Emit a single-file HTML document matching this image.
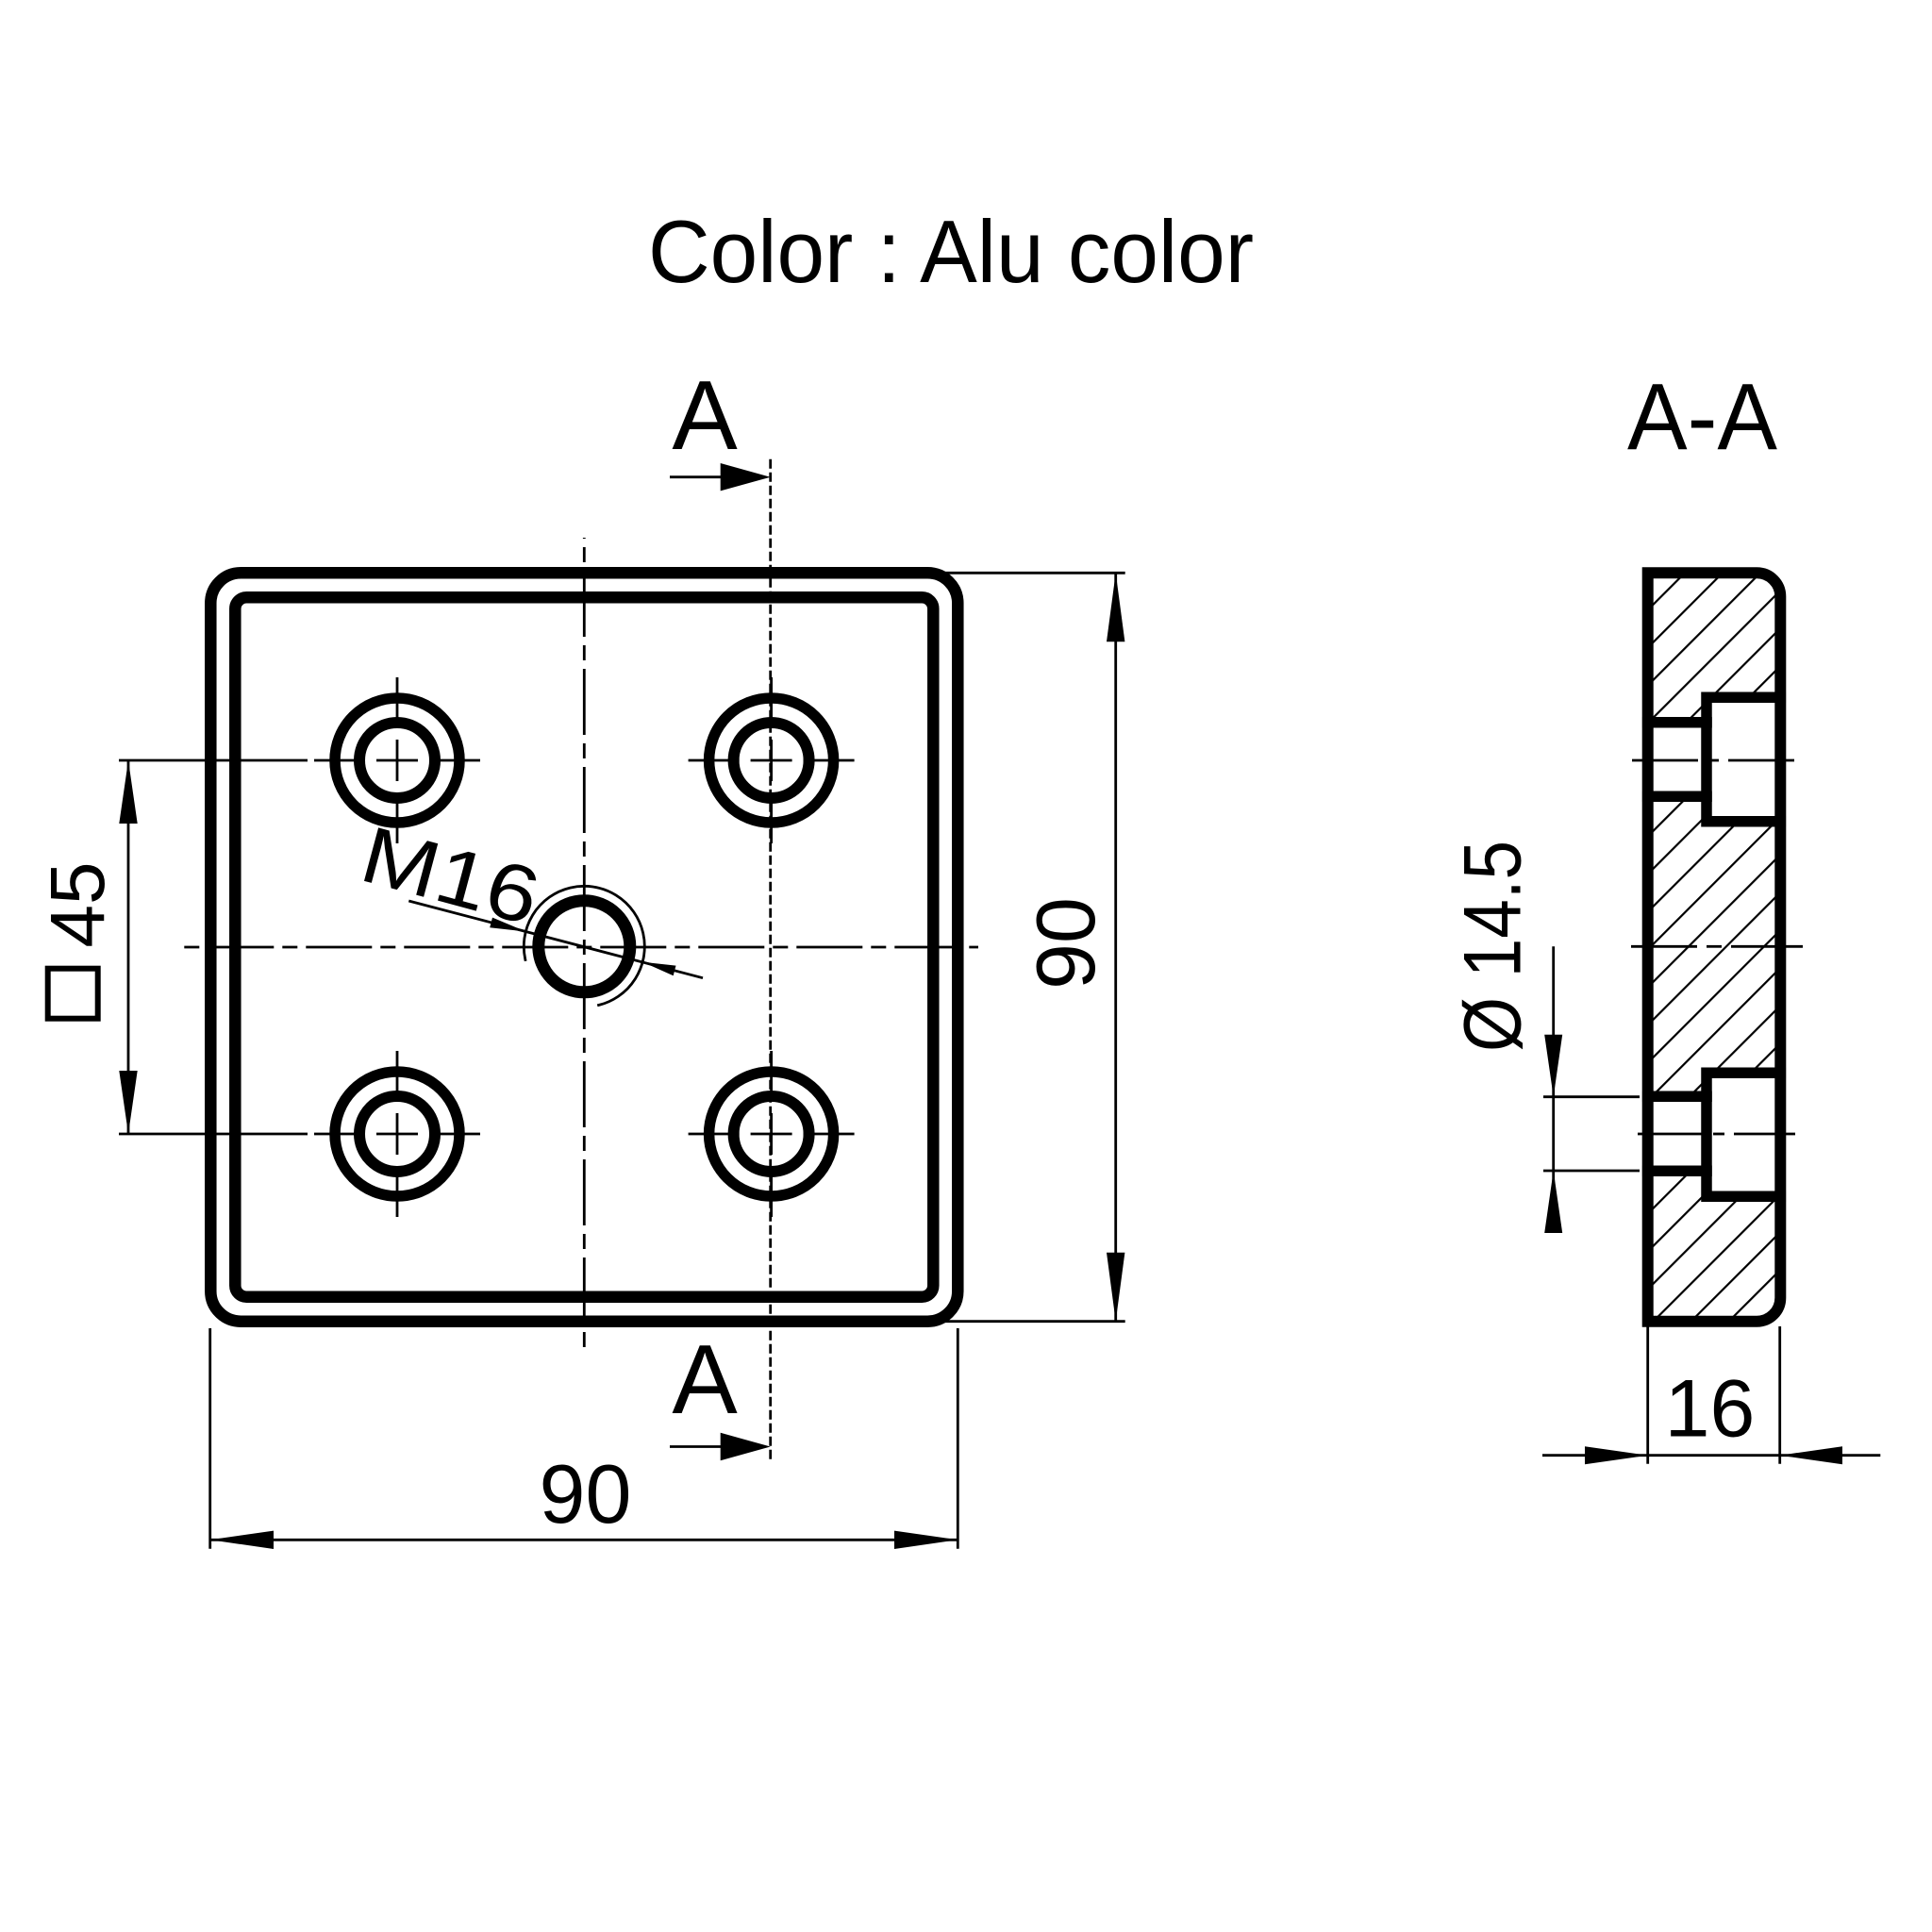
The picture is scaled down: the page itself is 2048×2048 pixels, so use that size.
<!DOCTYPE html>
<html><head><meta charset="utf-8"><style>
html,body{margin:0;padding:0;background:#fff;}
svg{display:block;}
text{font-family:"Liberation Sans",sans-serif;fill:#000;}
</style></head><body>
<svg width="2048" height="2048" viewBox="0 0 2048 2048" xmlns="http://www.w3.org/2000/svg">
<rect width="2048" height="2048" fill="#fff"/>
<defs>
<clipPath id="sec"><path d="M1746.7 607.3 H1862.3 A25 25 0 0 1 1887.3 632.3 V1375.7 A25 25 0 0 1 1862.3 1400.7 H1746.7 Z"/></clipPath>
</defs>

<!-- Title -->
<text x="687" y="299" font-size="94" textLength="642" lengthAdjust="spacingAndGlyphs">Color : Alu color</text>

<!-- Section labels -->
<text x="747" y="476" font-size="104" text-anchor="middle">A</text>
<text x="747" y="1498" font-size="104" text-anchor="middle">A</text>
<text x="1725" y="476" font-size="100" textLength="159" lengthAdjust="spacingAndGlyphs">A-A</text>

<!-- Section arrows -->
<g stroke="#000" stroke-width="2.8" fill="none">
<line x1="710" y1="505.7" x2="770" y2="505.7"/>
<line x1="710" y1="1533.5" x2="770" y2="1533.5"/>
</g>
<polygon points="816.7,505.7 763.7,491 763.7,520.4" fill="#000"/>
<polygon points="816.7,1533.5 763.7,1518.8 763.7,1548.2" fill="#000"/>
<line x1="816.7" y1="486.7" x2="816.7" y2="1549" stroke="#000" stroke-width="2.8" stroke-dasharray="10 4"/>

<!-- Plate outlines -->
<rect x="223.3" y="607.3" width="792" height="793.4" rx="32" ry="32" fill="none" stroke="#000" stroke-width="12.5"/>
<rect x="249.3" y="633.3" width="740" height="741.4" rx="12" ry="12" fill="none" stroke="#000" stroke-width="12.5"/>

<!-- Main centerlines -->
<line x1="619.3" y1="570" x2="619.3" y2="1429.3" stroke="#000" stroke-width="2.8" stroke-dasharray="70 9 16 9" stroke-dashoffset="69"/>
<line x1="186.7" y1="1004" x2="1037" y2="1004" stroke="#000" stroke-width="2.8" stroke-dasharray="70 9 16 9" stroke-dashoffset="70.4"/>

<!-- Counterbored holes -->
<g fill="none" stroke="#000">
<circle cx="421" cy="806" r="66" stroke-width="11.5"/>
<circle cx="421" cy="806" r="40" stroke-width="12"/>
<circle cx="817.6" cy="806" r="66" stroke-width="11.5"/>
<circle cx="817.6" cy="806" r="40" stroke-width="12"/>
<circle cx="421" cy="1202" r="66" stroke-width="11.5"/>
<circle cx="421" cy="1202" r="40" stroke-width="12"/>
<circle cx="817.6" cy="1202" r="66" stroke-width="11.5"/>
<circle cx="817.6" cy="1202" r="40" stroke-width="12"/>
</g>
<!-- Crosshairs -->
<g stroke="#000" stroke-width="2.8">
<line x1="421" y1="718" x2="421" y2="772"/><line x1="421" y1="784" x2="421" y2="828"/><line x1="421" y1="840" x2="421" y2="894"/>
<line x1="333" y1="806" x2="387" y2="806"/><line x1="399" y1="806" x2="443" y2="806"/><line x1="455" y1="806" x2="509" y2="806"/>
<line x1="817.6" y1="718" x2="817.6" y2="772"/><line x1="817.6" y1="784" x2="817.6" y2="828"/><line x1="817.6" y1="840" x2="817.6" y2="894"/>
<line x1="729.6" y1="806" x2="783.6" y2="806"/><line x1="795.6" y1="806" x2="839.6" y2="806"/><line x1="851.6" y1="806" x2="905.6" y2="806"/>
<line x1="421" y1="1114" x2="421" y2="1168"/><line x1="421" y1="1180" x2="421" y2="1224"/><line x1="421" y1="1236" x2="421" y2="1290"/>
<line x1="333" y1="1202" x2="387" y2="1202"/><line x1="399" y1="1202" x2="443" y2="1202"/><line x1="455" y1="1202" x2="509" y2="1202"/>
<line x1="817.6" y1="1114" x2="817.6" y2="1168"/><line x1="817.6" y1="1180" x2="817.6" y2="1224"/><line x1="817.6" y1="1236" x2="817.6" y2="1290"/>
<line x1="729.6" y1="1202" x2="783.6" y2="1202"/><line x1="795.6" y1="1202" x2="839.6" y2="1202"/><line x1="851.6" y1="1202" x2="905.6" y2="1202"/>
</g>

<!-- Center threaded hole -->
<circle cx="619.3" cy="1003.3" r="48.5" fill="none" stroke="#000" stroke-width="13"/>
<path d="M557.2 1018.8 A64 64 0 1 1 633.2 1065.8" fill="none" stroke="#000" stroke-width="2.8"/>
<line x1="433.3" y1="955" x2="745" y2="1036.7" stroke="#000" stroke-width="2.8"/>
<polygon points="557.4,987.5 519.2,983.2 522.0,972.6" fill="#000"/>
<polygon points="681.2,1019.8 713.7,1034.2 716.5,1023.6" fill="#000"/>
<text transform="translate(378.3 931.7) rotate(15)" font-size="85" textLength="190" lengthAdjust="spacingAndGlyphs">M16</text>

<!-- Dimension: horizontal 90 -->
<g stroke="#000" stroke-width="2.8">
<line x1="222.7" y1="1408" x2="222.7" y2="1641.7"/>
<line x1="1015.3" y1="1408" x2="1015.3" y2="1641.7"/>
<line x1="222.7" y1="1632.3" x2="1015.3" y2="1632.3"/>
</g>
<polygon points="222.7,1632.3 290,1622.6 290,1642" fill="#000"/>
<polygon points="1015.3,1632.3 948,1622.6 948,1642" fill="#000"/>
<text x="620.5" y="1614" font-size="88" text-anchor="middle">90</text>

<!-- Dimension: vertical 90 -->
<g stroke="#000" stroke-width="2.8">
<line x1="1000" y1="607.3" x2="1192.7" y2="607.3"/>
<line x1="1000" y1="1400.7" x2="1192.7" y2="1400.7"/>
<line x1="1182.7" y1="607.3" x2="1182.7" y2="1400.7"/>
</g>
<polygon points="1182.7,607.3 1173,680.3 1192.4,680.3" fill="#000"/>
<polygon points="1182.7,1400.7 1173,1327.7 1192.4,1327.7" fill="#000"/>
<text transform="translate(1160 1000) rotate(-90)" font-size="88" text-anchor="middle">90</text>

<!-- Dimension: square 45 -->
<g stroke="#000" stroke-width="2.8">
<line x1="126" y1="806" x2="326" y2="806"/>
<line x1="126" y1="1202" x2="326" y2="1202"/>
<line x1="136" y1="806" x2="136" y2="1202"/>
</g>
<polygon points="136,806 126.3,873 145.7,873" fill="#000"/>
<polygon points="136,1202 126.3,1135 145.7,1135" fill="#000"/>
<rect x="50.7" y="1026.7" width="53" height="53" fill="none" stroke="#000" stroke-width="6"/>
<text transform="translate(110 959) rotate(-90)" font-size="82" text-anchor="middle">45</text>

<!-- Section view A-A -->
<g clip-path="url(#sec)" stroke="#000" stroke-width="2.2">
<line x1="1740" y1="613.3" x2="1895" y2="458.3"/>
<line x1="1740" y1="653.3" x2="1895" y2="498.3"/>
<line x1="1740" y1="693.3" x2="1895" y2="538.3"/>
<line x1="1740" y1="733.3" x2="1895" y2="578.3"/>
<line x1="1740" y1="773.3" x2="1895" y2="618.3"/>
<line x1="1740" y1="813.3" x2="1895" y2="658.3"/>
<line x1="1740" y1="853.3" x2="1895" y2="698.3"/>
<line x1="1740" y1="893.3" x2="1895" y2="738.3"/>
<line x1="1740" y1="933.3" x2="1895" y2="778.3"/>
<line x1="1740" y1="973.3" x2="1895" y2="818.3"/>
<line x1="1740" y1="1013.3" x2="1895" y2="858.3"/>
<line x1="1740" y1="1053.3" x2="1895" y2="898.3"/>
<line x1="1740" y1="1093.3" x2="1895" y2="938.3"/>
<line x1="1740" y1="1133.3" x2="1895" y2="978.3"/>
<line x1="1740" y1="1173.3" x2="1895" y2="1018.3"/>
<line x1="1740" y1="1213.3" x2="1895" y2="1058.3"/>
<line x1="1740" y1="1253.3" x2="1895" y2="1098.3"/>
<line x1="1740" y1="1293.3" x2="1895" y2="1138.3"/>
<line x1="1740" y1="1333.3" x2="1895" y2="1178.3"/>
<line x1="1740" y1="1373.3" x2="1895" y2="1218.3"/>
<line x1="1740" y1="1413.3" x2="1895" y2="1258.3"/>
<line x1="1740" y1="1453.3" x2="1895" y2="1298.3"/>
<line x1="1740" y1="1493.3" x2="1895" y2="1338.3"/>
<line x1="1740" y1="1533.3" x2="1895" y2="1378.3"/>
<line x1="1740" y1="1573.3" x2="1895" y2="1418.3"/>
</g>
<g fill="#fff">
<rect x="1809" y="739.3" width="78.3" height="131.4"/>
<rect x="1746.7" y="765.7" width="62.3" height="78.5"/>
<rect x="1809" y="1137.3" width="78.3" height="131"/>
<rect x="1746.7" y="1162.3" width="62.3" height="79"/>
</g>
<path d="M1746.7 607.3 H1862.3 A25 25 0 0 1 1887.3 632.3 V1375.7 A25 25 0 0 1 1862.3 1400.7 H1746.7 Z" fill="none" stroke="#000" stroke-width="12"/>
<g stroke="#000" stroke-width="11.5" fill="none" stroke-linecap="square">
<polyline points="1887.3,739.3 1809,739.3 1809,870.7 1887.3,870.7"/>
<line x1="1746.7" y1="765.7" x2="1809" y2="765.7"/>
<line x1="1746.7" y1="844.2" x2="1809" y2="844.2"/>
<polyline points="1887.3,1137.3 1809,1137.3 1809,1268.3 1887.3,1268.3"/>
<line x1="1746.7" y1="1162.3" x2="1809" y2="1162.3"/>
<line x1="1746.7" y1="1241.3" x2="1809" y2="1241.3"/>
</g>
<g stroke="#000" stroke-width="2.8">
<line x1="1730" y1="806" x2="1800" y2="806"/><line x1="1810" y1="806" x2="1822" y2="806"/><line x1="1832" y1="806" x2="1902" y2="806"/>
<line x1="1729" y1="1003.3" x2="1799" y2="1003.3"/><line x1="1809" y1="1003.3" x2="1825" y2="1003.3"/><line x1="1835" y1="1003.3" x2="1911" y2="1003.3"/>
<line x1="1736" y1="1202" x2="1806" y2="1202"/><line x1="1816" y1="1202" x2="1828" y2="1202"/><line x1="1838" y1="1202" x2="1903" y2="1202"/>
</g>

<!-- Dimension: diameter 14.5 -->
<g stroke="#000" stroke-width="2.8">
<line x1="1636" y1="1162.7" x2="1738" y2="1162.7"/>
<line x1="1636" y1="1241" x2="1738" y2="1241"/>
<line x1="1646.7" y1="1003.3" x2="1646.7" y2="1306.7"/>
</g>
<polygon points="1646.7,1162.7 1637.2,1096.7 1656.2,1096.7" fill="#000"/>
<polygon points="1646.7,1241 1637.2,1307 1656.2,1307" fill="#000"/>
<text transform="translate(1611.7 1115) rotate(-90)" font-size="86" textLength="224" lengthAdjust="spacingAndGlyphs">Ø 14.5</text>

<!-- Dimension: 16 -->
<g stroke="#000" stroke-width="2.8">
<line x1="1746.7" y1="1406" x2="1746.7" y2="1551.7"/>
<line x1="1886.7" y1="1406" x2="1886.7" y2="1551.7"/>
<line x1="1635" y1="1542.7" x2="1993.3" y2="1542.7"/>
</g>
<polygon points="1746.7,1542.7 1680,1533.2 1680,1552.2" fill="#000"/>
<polygon points="1886.7,1542.7 1953,1533.2 1953,1552.2" fill="#000"/>
<text x="1812.5" y="1522.3" font-size="86" text-anchor="middle">16</text>
</svg>
</body></html>
